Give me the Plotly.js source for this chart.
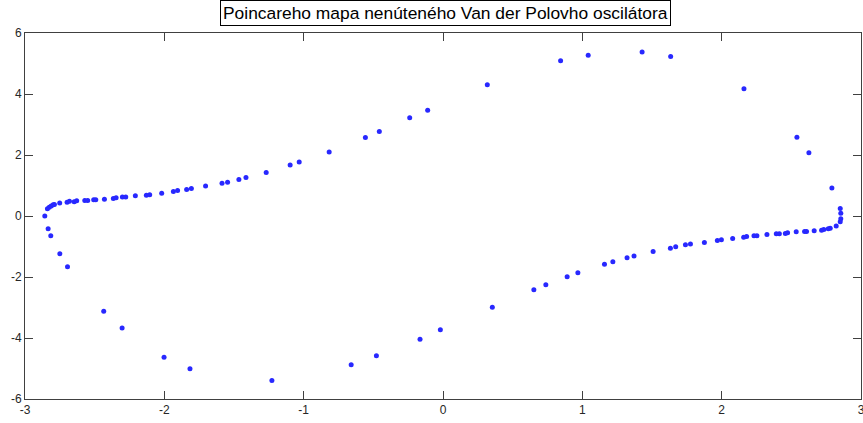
<!DOCTYPE html>
<html>
<head>
<meta charset="utf-8">
<script src="https://cdn.plot.ly/plotly-3.0.1.min.js"></script>
<style>
  html, body { margin: 0; padding: 0; background: #fff; }
  #chart { width: 863px; height: 423px; }
</style>
</head>
<body>
<div id="chart"></div>
<script>
// Poincaré section points of the unforced Van der Pol oscillator (x, v)
const leftBranchX = [-2.858, -2.839, -2.826, -2.812, -2.798, -2.789, -2.751, -2.698, -2.681, -2.647,
  -2.629, -2.571, -2.550, -2.507, -2.492, -2.430, -2.366, -2.346, -2.301, -2.277,
  -2.208, -2.129, -2.105, -2.019, -1.935, -1.905, -1.840, -1.806, -1.704, -1.586,
  -1.546, -1.465, -1.414, -1.269, -1.097, -1.032];
const leftBranchY = [0.00, 0.24, 0.29, 0.33, 0.37, 0.38, 0.43, 0.45, 0.48, 0.47,
  0.50, 0.51, 0.51, 0.53, 0.53, 0.55, 0.57, 0.60, 0.62, 0.62,
  0.66, 0.68, 0.70, 0.75, 0.80, 0.84, 0.87, 0.90, 0.98, 1.07,
  1.11, 1.20, 1.26, 1.43, 1.67, 1.77];

const upperArcX = [-0.817, -0.557, -0.457, -0.239, -0.110, 0.318, 0.844, 1.042, 1.429, 1.634,
  2.160, 2.540, 2.626, 2.791];
const upperArcY = [2.10, 2.57, 2.77, 3.22, 3.47, 4.30, 5.09, 5.27, 5.38, 5.23,
  4.17, 2.58, 2.07, 0.92];

const rightBranchX = [2.851, 2.855, 2.855, 2.851, 2.822, 2.779, 2.765, 2.733, 2.717, 2.664,
  2.609, 2.595, 2.535, 2.473, 2.457, 2.414, 2.392, 2.325, 2.253, 2.232,
  2.179, 2.158, 2.079, 1.998, 1.969, 1.876, 1.776, 1.740, 1.670, 1.632,
  1.508, 1.371, 1.321, 1.219, 1.159, 0.968];
const rightBranchY = [0.25, 0.09, -0.09, -0.19, -0.33, -0.40, -0.42, -0.44, -0.47, -0.48,
  -0.51, -0.51, -0.52, -0.55, -0.57, -0.58, -0.58, -0.61, -0.65, -0.65,
  -0.67, -0.70, -0.74, -0.78, -0.80, -0.87, -0.92, -0.94, -1.01, -1.06,
  -1.16, -1.31, -1.37, -1.50, -1.58, -1.86];

const lowerArcX = [0.891, 0.738, 0.652, 0.354, -0.019, -0.165, -0.478, -0.659, -1.228, -1.816,
  -2.002, -2.303, -2.435, -2.695, -2.750, -2.815, -2.834];
const lowerArcY = [-1.99, -2.25, -2.42, -2.99, -3.73, -4.04, -4.58, -4.88, -5.39, -5.01,
  -4.63, -3.67, -3.12, -1.66, -1.24, -0.65, -0.42];

const xTicks = [-3, -2, -1, 0, 1, 2, 3];
const yTicks = [-6, -4, -2, 0, 2, 4, 6];
const chartTitle = 'Poincareho mapa nenúteného Van der Polovho oscilátora';

const xs = [].concat(leftBranchX, upperArcX, rightBranchX, lowerArcX);
const ys = [].concat(leftBranchY, upperArcY, rightBranchY, lowerArcY);

const trace = {
  x: xs, y: ys,
  type: 'scatter', mode: 'markers',
  marker: { color: 'rgb(40,40,255)', size: 5, line: { width: 0 } },
  hoverinfo: 'skip'
};

const axisCommon = {
  showgrid: false, zeroline: false,
  showline: true, linecolor: '#404040', linewidth: 1,
  mirror: 'allticks', ticks: 'inside', ticklen: 8, tickwidth: 1, tickcolor: '#404040',
  tickfont: { family: 'Liberation Sans, Arial, sans-serif', size: 12, color: '#262626' },
  tickmode: 'array',
  ticklabeloverflow: 'allow'
};

const layout = {
  width: 863, height: 423,
  margin: { l: 25, r: 2, t: 33, b: 24, pad: 0 },
  paper_bgcolor: '#ffffff', plot_bgcolor: '#ffffff',
  showlegend: false,
  xaxis: Object.assign({}, axisCommon, {
    range: [-3, 3], tickvals: xTicks, ticktext: xTicks.map(String)
  }),
  yaxis: Object.assign({}, axisCommon, {
    range: [-6, 6], tickvals: yTicks, ticktext: yTicks.map(String)
  }),
  annotations: [{
    text: chartTitle,
    xref: 'paper', yref: 'paper',
    x: 0.5035, y: 1, xanchor: 'center', yanchor: 'bottom', yshift: 7,
    showarrow: false,
    font: { family: 'Liberation Sans, Arial, sans-serif', size: 17.4, color: '#000' },
    bordercolor: '#000', borderwidth: 1, borderpad: 2, bgcolor: '#fff'
  }]
};

Plotly.newPlot('chart', [trace], layout, { staticPlot: true, displayModeBar: false });
</script>
</body>
</html>
